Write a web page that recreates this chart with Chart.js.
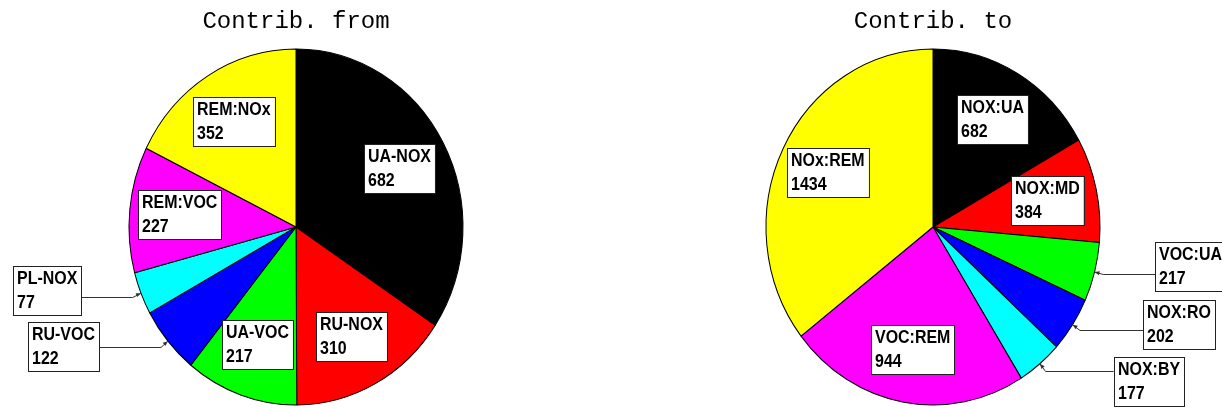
<!DOCTYPE html>
<html>
<head>
<meta charset="utf-8">
<script src="https://cdn.jsdelivr.net/npm/chart.js@4/dist/chart.umd.min.js"></script>
<style>
  html, body { margin: 0; padding: 0; background: #fff; }
  body { width: 1222px; height: 408px; position: relative; overflow: hidden; }
  canvas { position: absolute; top: 0; }
  #fromChart { left: 0; }
  #toChart { left: 644px; }
</style>
</head>
<body>
<canvas id="fromChart" width="592" height="408"></canvas>
<canvas id="toChart" width="578" height="408"></canvas>
<script>
// Pie contributions

const fromTitle = 'Contrib. from';
const fromLabels = ['UA-NOX', 'RU-NOX', 'UA-VOC', 'RU-VOC', 'PL-NOX', 'REM:VOC', 'REM:NOx'];
const fromValues = [682, 310, 217, 122, 77, 227, 352];

const toTitle = 'Contrib. to';
const toLabels = ['NOX:UA', 'NOX:MD', 'VOC:UA', 'NOX:RO', 'NOX:BY', 'VOC:REM', 'NOx:REM'];
const toValues = [682, 384, 217, 202, 177, 944, 1434];

const sliceColors = ['#000000', '#ff0000', '#00ff00', '#0000ff', '#00ffff', '#ff00ff', '#ffff00'];

// small slices get their label outside, on a leader line (run = horizontal length, attach = offset from box top)
const fromCallouts = [null, null, null, { run: 62, attach: 25 }, { run: 51, attach: 31 }, null, null];
const toCallouts = [null, null, { run: 52, attach: 32 }, { run: 63, attach: 30 }, { run: 68, attach: 14 }, null, null];

const RADIUS = 167;
const STRETCH = 178 / 167;   // pies are drawn slightly taller than wide
const LABEL_FONT = 'bold 19px "Liberation Sans", Arial, sans-serif';
const NARROW = 0.84;

function labelBox(ctx, lines, left, top) {
	ctx.font = LABEL_FONT;
	const w = Math.max(...lines.map(l => ctx.measureText(l).width)) * NARROW + 8;
	const h = 49;
	const x = Math.round(left), y = Math.round(top);
	ctx.fillStyle = '#fff';
	ctx.fillRect(x, y, w, h);
	ctx.strokeStyle = '#222';
	ctx.lineWidth = 1;
	ctx.strokeRect(x + 0.5, y + 0.5, Math.round(w), h);
	ctx.save();
	ctx.translate(x + 4, y + 18);
	ctx.scale(NARROW, 1);
	ctx.fillStyle = '#000';
	ctx.textAlign = 'left';
	ctx.textBaseline = 'alphabetic';
	lines.forEach((l, i) => ctx.fillText(l, 0, i * 24));
	ctx.restore();
	return w;
}

function boxWidth(ctx, lines) {
	ctx.font = LABEL_FONT;
	return Math.max(...lines.map(l => ctx.measureText(l).width)) * NARROW + 8;
}

const ellipsePlugin = {
	id: 'ellipse',
	beforeDatasetsDraw(chart) {
		const arc = chart.getDatasetMeta(0).data[0];
		const ctx = chart.ctx;
		ctx.save();
		ctx.translate(arc.x, arc.y);
		ctx.scale(1, STRETCH);
		ctx.translate(-arc.x, -arc.y);
	},
	afterDatasetsDraw(chart) {
		chart.ctx.restore();
	}
};

const labelPlugin = {
	id: 'sliceLabels',
	afterDraw(chart, args, opts) {
		const ctx = chart.ctx;
		const ds = chart.data.datasets[0];
		const arcs = chart.getDatasetMeta(0).data;
		const cx = arcs[0].x;

		// title
		ctx.save();
		ctx.font = '24px "Liberation Mono", "Courier New", monospace';
		ctx.fillStyle = '#000';
		ctx.textAlign = 'center';
		ctx.textBaseline = 'alphabetic';
		ctx.fillText(opts.title, cx, 28);
		ctx.restore();

		arcs.forEach((arc, i) => {
			const lines = [chart.data.labels[i], String(ds.data[i])];
			const mid = (arc.startAngle + arc.endAngle) / 2;
			const cos = Math.cos(mid), sin = Math.sin(mid);
			const R = arc.outerRadius;
			const call = opts.callouts[i];
			if (!call) {
				const px = arc.x + cos * R * 0.7;
				const py = arc.y + sin * R * 0.7 * STRETCH;
				const w = boxWidth(ctx, lines);
				labelBox(ctx, lines, px - w / 2, py - 24.5);
				return;
			}
			const tx = arc.x + cos * R;
			const ty = arc.y + sin * R * STRETCH;
			const ex = tx + cos * 9;
			const ey = ty + sin * 9;
			const side = cos < 0 ? -1 : 1;
			const bx = ex + side * call.run;
			ctx.save();
			ctx.strokeStyle = '#333';
			ctx.lineWidth = 1;
			ctx.beginPath();
			ctx.moveTo(tx, ty);
			ctx.lineTo(ex, Math.round(ey) + 0.5);
			ctx.lineTo(bx, Math.round(ey) + 0.5);
			ctx.stroke();
			// arrow head at the pie edge
			const ang = Math.atan2(ty - ey, tx - ex);
			ctx.fillStyle = '#333';
			ctx.beginPath();
			ctx.moveTo(tx, ty);
			ctx.lineTo(tx - 5 * Math.cos(ang) + 2 * Math.sin(ang), ty - 5 * Math.sin(ang) - 2 * Math.cos(ang));
			ctx.lineTo(tx - 5 * Math.cos(ang) - 2 * Math.sin(ang), ty - 5 * Math.sin(ang) + 2 * Math.cos(ang));
			ctx.closePath();
			ctx.fill();
			ctx.restore();
			const w = boxWidth(ctx, lines);
			const left = side < 0 ? bx - w : bx;
			labelBox(ctx, lines, left, Math.round(ey) - call.attach);
		});
	}
};

function makePie(id, labels, values, title, callouts) {
	return new Chart(document.getElementById(id), {
		type: 'pie',
		data: {
			labels: labels,
			datasets: [{
				data: values,
				backgroundColor: sliceColors,
				borderColor: '#000',
				borderWidth: 1,
				radius: RADIUS
			}]
		},
		options: {
			responsive: false,
			animation: false,
			devicePixelRatio: 1,
			events: [],
			layout: { padding: { top: 46, bottom: 0, left: 0, right: 0 } },
			plugins: {
				legend: { display: false },
				tooltip: { enabled: false },
				sliceLabels: { title: title, callouts: callouts }
			}
		},
		plugins: [ellipsePlugin, labelPlugin]
	});
}

makePie('fromChart', fromLabels, fromValues, fromTitle, fromCallouts);
makePie('toChart', toLabels, toValues, toTitle, toCallouts);
</script>
</body>
</html>
